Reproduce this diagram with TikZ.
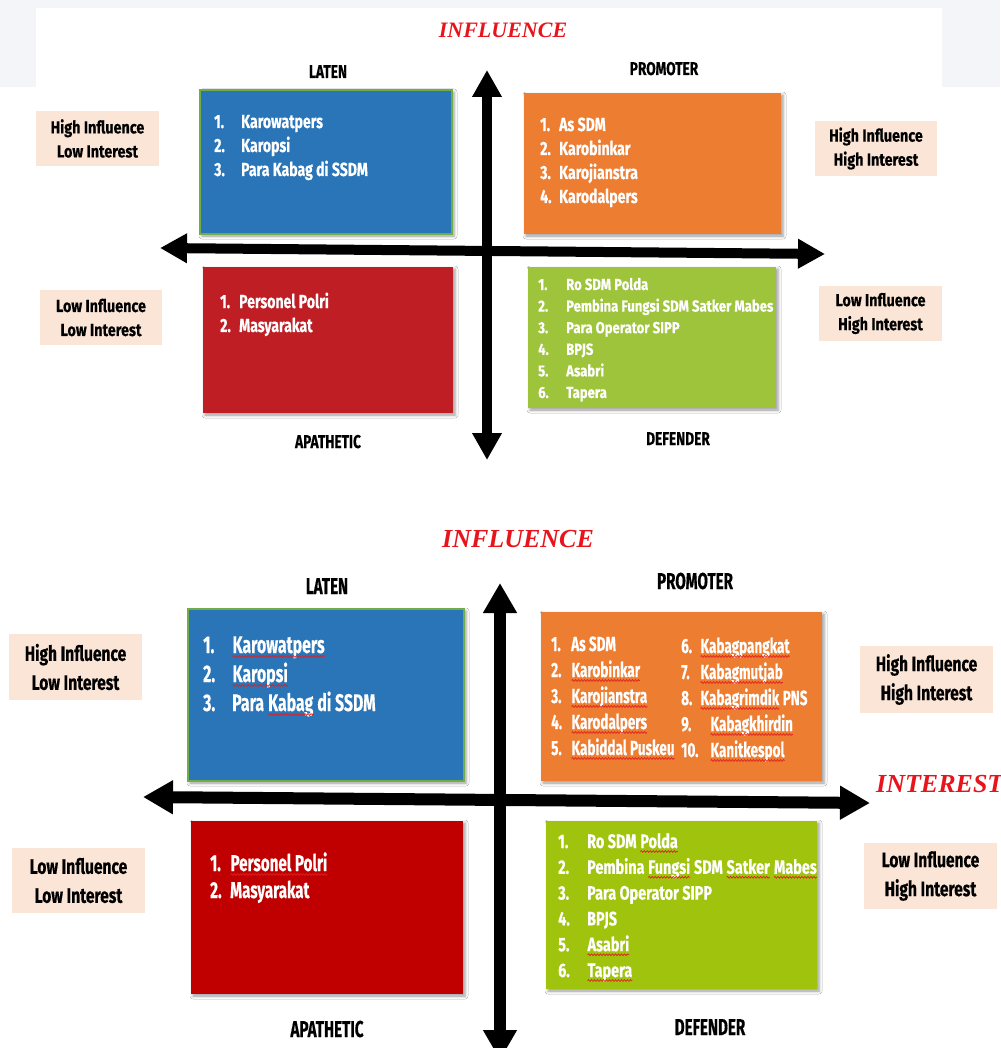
\documentclass[tikz,border=0pt]{standalone}
\usepackage{fontspec}
\usetikzlibrary{arrows.meta,shadows.blur,decorations.pathmorphing}
\newfontfamily\din[FakeStretch=0.74,FakeBold=0.4]{Fira Sans}
\newfontfamily\dinwide[FakeStretch=0.66,FakeBold=0.4]{Fira Sans}
\newfontfamily\dinloose[FakeStretch=0.82,FakeBold=0.4]{Fira Sans}
\newfontfamily\brush{Liberation Serif}
\newcommand\spell[1]{\tikz[baseline=(sp.base)]{\node[inner sep=0pt,outer sep=0pt] (sp) {#1};
  \draw[spellred,line width=0.7pt,decorate,decoration={snake,amplitude=0.9pt,segment length=3pt}] ([yshift=-3.5pt]sp.base west) -- ([yshift=-3.5pt]sp.base east);}}
\definecolor{spellred}{HTML}{E02020}
\definecolor{boxblue}{HTML}{2A75B7}
\definecolor{boxorange}{HTML}{ED7D31}
\definecolor{boxred}{HTML}{BE1E24}
\definecolor{boxredB}{HTML}{C00000}
\definecolor{boxgreen}{HTML}{9DC43B}
\definecolor{boxgreenB}{HTML}{A0C40E}
\definecolor{peachfill}{HTML}{FBE5D6}
\definecolor{edgegreen}{HTML}{70AD47}
\definecolor{titlered}{HTML}{E8141C}
\definecolor{bandgray}{HTML}{F4F5F8}
\begin{document}
\begin{tikzpicture}[x=1pt,y=-1pt,
  quad/.style={inner sep=0pt,blur shadow={shadow xshift=2pt,shadow yshift=-2pt,shadow blur radius=3pt,shadow opacity=40}},
  peach/.style={fill=peachfill,align=center,inner sep=0pt,text=black},
  list/.style={anchor=base west,inner sep=0pt,text=white},
  tag/.style={anchor=base,inner sep=0pt,text=black},
  title/.style={anchor=base,inner sep=0pt,text=titlered,font=\brush\bfseries\itshape},
  axisA/.style={line width=10pt,{Triangle[length=27pt,width=28pt]}-{Triangle[length=27pt,width=28pt]}},
  axisB/.style={line width=12pt,{Triangle[length=30pt,width=32pt]}-{Triangle[length=30pt,width=32pt]}}]
\useasboundingbox (0,0) rectangle (1000,1048);
\fill[white] (0,0) rectangle (1000,1048);
\fill[bandgray] (0,0) rectangle (1000,87);
\fill[white] (36,8) rectangle (942,87);

\node[title,font=\brush\bfseries\itshape\fontsize{22}{24}\selectfont] (infA) at (503,38) {INFLUENCE};
\node[tag,font=\din\bfseries\fontsize{18.5}{22}\selectfont] (latenA) at (328,78) {LATEN};
\node[tag,font=\din\bfseries\fontsize{18.5}{22}\selectfont] (promA) at (664,75) {PROMOTER};
\node[tag,font=\din\bfseries\fontsize{18.5}{22}\selectfont] (apatA) at (328,448) {APATHETIC};
\node[tag,font=\din\bfseries\fontsize{18.5}{22}\selectfont] (defA) at (678,445) {DEFENDER};

\coordinate (upA) at (487,70); \coordinate (downA) at (487,460);
\coordinate (leftA) at (160,248); \coordinate (rightA) at (825,254);
\draw[axisA] (downA) -- (upA);
\draw[axisA] (leftA) -- (rightA);

\node[quad,fill=boxblue,draw=edgegreen,line width=1.5pt,minimum width=252pt,minimum height=144pt] (blueA) at (326,162) {};
\node[quad,fill=boxorange,minimum width=257pt,minimum height=141pt] (orangeA) at (652.5,163.5) {};
\node[quad,fill=boxred,minimum width=250pt,minimum height=146pt] (redA) at (328,340) {};
\node[quad,fill=boxgreen,minimum width=248pt,minimum height=141pt] (greenA) at (652,337.5) {};

\node[list,font=\din\bfseries\fontsize{19}{24}\selectfont] (blueListA) at (214,128) {\begin{tabular}[t]{@{}p{27pt}@{}l@{}}1.&Karowatpers\\2.&Karopsi\\3.&Para Kabag di SSDM\end{tabular}};
\node[list,font=\din\bfseries\fontsize{19}{24}\selectfont] (orangeListA) at (540,131) {\begin{tabular}[t]{@{}p{19pt}@{}l@{}}1.&As SDM\\2.&Karobinkar\\3.&Karojianstra\\4.&Karodalpers\end{tabular}};
\node[list,font=\din\bfseries\fontsize{19}{24}\selectfont] (redListA) at (220,308) {\begin{tabular}[t]{@{}p{19pt}@{}l@{}}1.&Personel Polri\\2.&Masyarakat\end{tabular}};
\node[list,font=\dinloose\bfseries\fontsize{16}{21.6}\selectfont] (greenListA) at (538,290) {\begin{tabular}[t]{@{}p{28pt}@{}l@{}}1.&Ro SDM Polda\\2.&Pembina Fungsi SDM Satker Mabes\\3.&Para Operator SIPP\\4.&BPJS\\5.&Asabri\\6.&Tapera\end{tabular}};

\node[peach,minimum width=123pt,minimum height=55pt,font=\dinloose\bfseries\fontsize{17.5}{24}\selectfont] (hlA) at (97.5,138.5) {High Influence\\Low Interest};
\node[peach,minimum width=122pt,minimum height=55pt,font=\dinloose\bfseries\fontsize{17.5}{24}\selectfont] (hhA) at (876,148.5) {High Influence\\High Interest};
\node[peach,minimum width=122pt,minimum height=55pt,font=\dinloose\bfseries\fontsize{17.5}{24}\selectfont] (llA) at (101,317.5) {Low Influence\\Low Interest};
\node[peach,minimum width=123pt,minimum height=55pt,font=\dinloose\bfseries\fontsize{17.5}{24}\selectfont] (lhA) at (880.5,313.5) {Low Influence\\High Interest};

\node[title,font=\brush\bfseries\itshape\fontsize{26}{28}\selectfont] (infB) at (518,547) {INFLUENCE};
\node[title,anchor=base west,font=\brush\bfseries\itshape\fontsize{26}{28}\selectfont] (intB) at (876,792) {INTEREST};
\node[tag,font=\dinwide\bfseries\fontsize{23}{26}\selectfont] (latenB) at (327,594) {LATEN};
\node[tag,font=\dinwide\bfseries\fontsize{23}{26}\selectfont] (promB) at (695,589) {PROMOTER};
\node[tag,font=\dinwide\bfseries\fontsize{23}{26}\selectfont] (apatB) at (327,1037) {APATHETIC};
\node[tag,font=\dinwide\bfseries\fontsize{23}{26}\selectfont] (defB) at (710,1035) {DEFENDER};

\coordinate (upB) at (500,583); \coordinate (downB) at (500,1060);
\coordinate (leftB) at (143,797); \coordinate (rightB) at (870,803);
\draw[axisB] (downB) -- (upB);
\draw[axisB] (leftB) -- (rightB);

\node[quad,fill=boxblue,draw=edgegreen,line width=1.5pt,minimum width=276pt,minimum height=172pt] (blueB) at (326,695) {};
\node[quad,fill=boxorange,minimum width=281pt,minimum height=169pt] (orangeB) at (681.5,696.5) {};
\node[quad,fill=boxredB,minimum width=272pt,minimum height=173pt] (redB) at (327,907.5) {};
\node[quad,fill=boxgreenB,minimum width=271pt,minimum height=168pt] (greenB) at (681.5,905) {};

\node[list,font=\dinwide\bfseries\fontsize{24}{29}\selectfont] (blueListB) at (203,653) {\begin{tabular}[t]{@{}p{29pt}@{}l@{}}1.&\spell{Karowatpers}\\2.&\spell{Karopsi}\\3.&Para \spell{Kabag} di SSDM\end{tabular}};
\node[list,font=\dinwide\bfseries\fontsize{20.5}{26}\selectfont] (orangeListB) at (551,651) {\begin{tabular}[t]{@{}p{20pt}@{}l@{}}1.&As SDM\\2.&\spell{Karobinkar}\\3.&\spell{Karojianstra}\\4.&\spell{Karodalpers}\\5.&\spell{Kabiddal Puskeu}\end{tabular}};
\node[list,font=\dinwide\bfseries\fontsize{20.5}{26}\selectfont] (orangeMoreB) at (681,653) {\begin{tabular}[t]{@{}p{19pt}@{}l@{}}6.&\spell{Kabagpangkat}\\7.&\spell{Kabagmutjab}\\8.&\spell{Kabagrimdik} PNS\\9.&\hspace{10pt}\spell{Kabagkhirdin}\\10.&\hspace{10pt}\spell{Kanitkespol}\end{tabular}};
\node[list,font=\dinwide\bfseries\fontsize{23}{27}\selectfont] (redListB) at (210,871) {\begin{tabular}[t]{@{}p{20pt}@{}l@{}}1.&\spell{Personel Polri}\\2.&Masyarakat\end{tabular}};
\node[list,font=\din\bfseries\fontsize{19.5}{25.8}\selectfont] (greenListB) at (558,848) {\begin{tabular}[t]{@{}p{29pt}@{}l@{}}1.&Ro SDM \spell{Polda}\\2.&Pembina \spell{Fungsi} SDM \spell{Satker} \spell{Mabes}\\3.&Para Operator SIPP\\4.&BPJS\\5.&\spell{Asabri}\\6.&\spell{Tapera}\end{tabular}};

\node[peach,minimum width=133pt,minimum height=66pt,font=\din\bfseries\fontsize{21}{29}\selectfont] (hlB) at (75.5,667) {High Influence\\Low Interest};
\node[peach,minimum width=133pt,minimum height=67pt,font=\din\bfseries\fontsize{21}{29}\selectfont] (hhB) at (926.5,679.5) {High Influence\\High Interest};
\node[peach,minimum width=133pt,minimum height=65pt,font=\din\bfseries\fontsize{21}{29}\selectfont] (llB) at (78.5,880.5) {Low Influence\\Low Interest};
\node[peach,minimum width=133pt,minimum height=66pt,font=\din\bfseries\fontsize{21}{29}\selectfont] (lhB) at (930.5,876) {Low Influence\\High Interest};
\end{tikzpicture}
\end{document}
